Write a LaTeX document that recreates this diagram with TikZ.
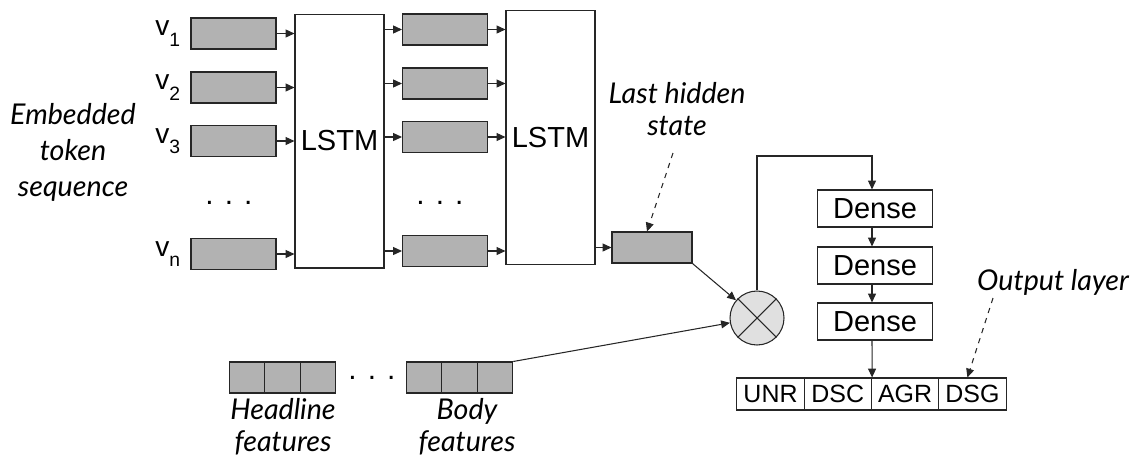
\documentclass[tikz,border=0pt]{standalone}
\usepackage{fontspec}
\setmainfont{Liberation Sans}
\newfontfamily\latofont{Lato}
\usetikzlibrary{positioning, arrows.meta}

\tikzset{
    vec/.style={draw=black!85, fill=gray!60, minimum width=1.7cm, minimum height=0.62cm, inner sep=0pt},
    feat/.style={draw=black!85, fill=gray!60, minimum width=0.71cm, minimum height=0.62cm, inner sep=0pt},
    lstm/.style={draw=black!85, minimum width=1.78cm, minimum height=5.08cm, font=\fontsize{16.5}{18}\selectfont},
    dense/.style={draw=black!85, minimum width=2.3cm, minimum height=0.74cm, font=\fontsize{16.5}{18}\selectfont},
    outcell/.style={draw=black!85, minimum width=1.35cm, minimum height=0.64cm, inner sep=0pt, font=\fontsize{14.2}{16}\selectfont},
    note/.style={align=center, font=\latofont\itshape\fontsize{16.3}{18.2}\selectfont},
    dots/.style={font=\fontsize{17}{18}\selectfont},
    arr/.style={-{Triangle[length=5pt,width=4.5pt]}, black!85, line width=0.6pt}
}

\begin{document}
\begin{tikzpicture}[x=0.02cm, y=-0.02cm, line width=0.6pt]
    \useasboundingbox (0,0) rectangle (1131,457);

    % Embedded inputs
    \foreach \i/\y in {1/33.5,2/87.5,3/141,4/254}
        \node[vec] (a\i) at (233.5,\y) {};
    \foreach \i/\sub in {1/1,2/2,3/3,4/n}
        \node[left=0.08cm of a\i, font=\fontsize{16}{18}\selectfont] (v\i) {v\raisebox{-0.7ex}{\fontsize{11}{11}\selectfont\sub}};
    \node[dots] (dotsa) at (229,203) {. . .};
    \node[note, font=\latofont\itshape\fontsize{16.3}{20.5}\selectfont] (emb) at (73,152) {Embedded\\token\\sequence};

    % First LSTM layer
    \node[lstm] (lstma) at (339.5,141) {LSTM};
    \foreach \i/\y in {1/29.5,2/83.5,3/137,4/251}
        \node[vec] (b\i) at (445,\y) {};
    \node[dots] (dotsb) at (440,203) {. . .};

    % Second LSTM layer
    \node[lstm] (lstmb) at (550.5,137.5) {LSTM};
    \node[vec, minimum width=1.6cm] (hid) at (652,247.5) {};

    \foreach \i in {1,2,3,4} {
        \draw[arr] (a\i.east) -- (a\i.east -| lstma.west);
        \draw[arr] (lstma.east |- b\i.west) -- (b\i.west);
        \draw[arr] (b\i.east) -- (b\i.east -| lstmb.west);
    }
    \draw[arr] (lstmb.east |- hid.west) -- (hid.west);

    % Last hidden state label
    \node[note] (lhs) at (677,109) {Last hidden\\state};
    \coordinate (lhsfrom) at (673,153);
    \draw[arr, dashed] (lhsfrom) -- ([xshift=-0.1cm]hid.north);

    % Extra features
    \foreach \i in {1,2,3} {
        \node[feat] (h\i) at ({247+35.5*(\i-1)},377.5) {};
        \node[feat] (g\i) at ({424+35.5*(\i-1)},377.5) {};
    }
    \node[dots] (dotsc) at (372,378) {. . .};
    \node[note] (hl) at (283,427) {Headline\\features};
    \node[note] (bd) at (467,427) {Body\\features};

    % Merge
    \node[draw=black!85, fill=gray!24, circle, minimum size=1.08cm] (mul) at (757,318) {};
    \draw[black!85] (mul.north west) -- (mul.south east);
    \draw[black!85] (mul.north east) -- (mul.south west);
    \draw[arr] (hid.south east) -- (mul);
    \draw[arr] (g3.north east) -- (mul);

    % Dense layers
    \node[dense] (d1) at (875,208.5) {Dense};
    \node[dense] (d2) at (875,265.5) {Dense};
    \node[dense] (d3) at (875,321.5) {Dense};
    \coordinate (turn) at (872,156);
    \draw[arr] (mul.north) |- (turn) -- (turn |- d1.north);
    \draw[arr] (d1.south -| turn) -- (d2.north -| turn);
    \draw[arr] (d2.south -| turn) -- (d3.north -| turn);

    % Output layer
    \foreach \i/\t in {1/UNR,2/DSC,3/AGR,4/DSG}
        \node[outcell] (o\i) at ({770.5+67.3*(\i-1)},394) {\t};
    \draw[arr] (d3.south -| turn) -- (o2.north east);
    \node[note] (ol) at (1053,282) {Output layer};
    \coordinate (olfrom) at (993,298);
    \draw[arr, dashed] (olfrom) -- ([xshift=-0.1cm]o4.north);

\end{tikzpicture}
\end{document}
